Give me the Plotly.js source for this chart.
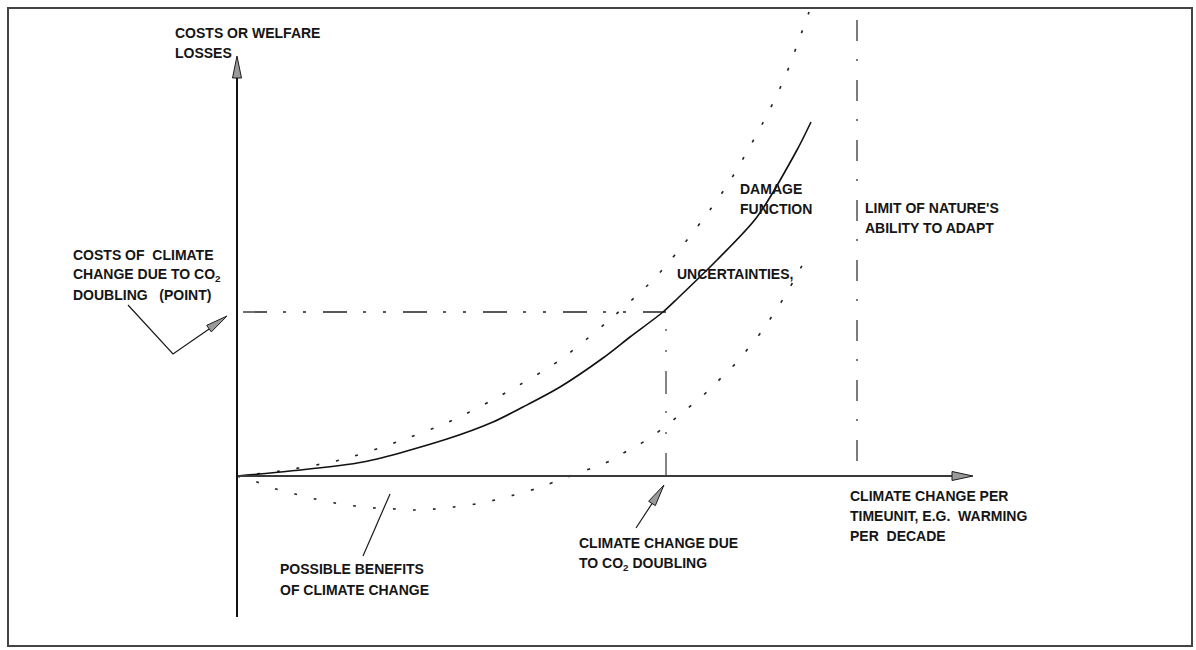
<!DOCTYPE html>
<html>
<head>
<meta charset="utf-8">
<script src="https://cdn.plot.ly/plotly-3.0.1.min.js"></script>
<style>html,body{margin:0;padding:0;background:#fff;}#chart{width:1196px;height:650px;}</style>
</head>
<body>
<div id="chart"></div>
<script>
// ---- Data read from the schematic (x: climate change per time unit, y: costs) ----
const damageX = [0, 1.06, 2.52, 4.2, 5.12, 5.72, 6.46, 7.32, 7.86, 8.52, 8.82, 9.6, 10.4, 11.2, 11.48];
const damageY = [0, 0.125, 0.35, 0.925, 1.35, 1.725, 2.225, 2.95, 3.475, 4.1, 4.45, 5.4, 6.475, 8.15, 8.85];

const upperX = [0, 0.86, 2.06, 3.2, 4.32, 5.4, 6.46, 7.4, 8.32, 8.84, 9.34, 9.82, 10.22, 10.62, 10.96, 11.26, 11.44];
const upperY = [0, 0.125, 0.4, 0.85, 1.4, 2.1, 2.9, 3.85, 4.9, 5.65, 6.45, 7.3, 8.15, 9.075, 9.975, 10.975, 11.6];

const lowerX = [0, 0.4, 0.78, 1.16, 1.56, 1.96, 2.36, 2.76, 3.16, 3.56, 3.96, 4.34, 4.78, 5.16, 5.54, 5.96, 6.34, 6.72, 7.1, 7.46, 7.8, 8.16, 8.5, 8.8, 9.12, 9.42, 9.72, 10.0, 10.26, 10.5, 10.74, 10.96, 11.36];
const lowerY = [0, -0.15, -0.325, -0.45, -0.575, -0.675, -0.75, -0.8, -0.825, -0.85, -0.825, -0.775, -0.7, -0.6, -0.475, -0.325, -0.15, 0.025, 0.2, 0.375, 0.625, 0.875, 1.175, 1.475, 1.8, 2.125, 2.5, 2.85, 3.25, 3.625, 4.075, 4.5, 5.4];

const co2DoublingX = 8.58;     // climate change due to CO2 doubling
const co2DoublingCost = 4.1;   // costs of climate change due to CO2 doubling
const natureLimitX = 12.4;     // limit of nature's ability to adapt
const natureLimitTop = 11.4;

// ---- Layout helpers ----
const W = 1196, H = 650;
const OX = 237, OY = 476, SX = 50, SY = 40; // axis scale: pixels per unit
const px = x => x / W;
const py = y => 1 - y / H;

const font = {family: '"Liberation Sans", Arial, Helvetica, sans-serif', size: 14, color: '#151515', weight: 'bold'};
const ink = '#1a1a1a';

function linePath(pts) {
  return pts.map((p, i) => (i ? 'L' : 'M') + px(p[0]).toFixed(5) + ',' + py(p[1]).toFixed(5)).join(' ');
}
function arrowHead(tx, ty, fx, fy, len, half) {
  const dx = tx - fx, dy = ty - fy, d = Math.hypot(dx, dy);
  const ux = dx / d, uy = dy / d;
  const bx = tx - ux * len, by = ty - uy * len;
  const nx = -uy, ny = ux;
  return {
    type: 'path', xref: 'paper', yref: 'paper',
    path: linePath([[tx, ty], [bx + nx * half, by + ny * half], [bx - nx * half, by - ny * half]]) + ' Z',
    fillcolor: '#9a9a9a', line: {color: ink, width: 1}
  };
}
function seg(pts, width, color, dash) {
  return {type: 'path', xref: 'paper', yref: 'paper', path: linePath(pts),
          line: {color: color || ink, width: width || 1.2, dash: dash || 'solid'}};
}

const traces = [
  {x: [0.12, co2DoublingX], y: [co2DoublingCost, co2DoublingCost], mode: 'lines',
   line: {color: '#222', width: 1.3, dash: '24px,16px,3px,17px,3px,17px'}, hoverinfo: 'skip'},
  {x: [co2DoublingX, co2DoublingX], y: [0, co2DoublingCost], mode: 'lines',
   line: {color: '#333', width: 1.2, dash: '23px,19px,2px,19px,2px,17px'}, hoverinfo: 'skip'},
  {x: [natureLimitX, natureLimitX], y: [natureLimitTop, 0], mode: 'lines',
   line: {color: '#444', width: 1.4, dash: '21px,18px,2px,19px'}, hoverinfo: 'skip'},
  {x: upperX, y: upperY, mode: 'lines', line: {color: '#222', width: 1.6, dash: '3px,17px', shape: 'spline', smoothing: 0.8}, hoverinfo: 'skip'},
  {x: lowerX, y: lowerY, mode: 'lines', line: {color: '#222', width: 1.6, dash: '3px,17px', shape: 'spline', smoothing: 0.8}, hoverinfo: 'skip'},
  {x: damageX, y: damageY, mode: 'lines', line: {color: '#111', width: 1.6, shape: 'spline', smoothing: 0.8}, hoverinfo: 'skip'}
];

const shapes = [
  // frame
  {type: 'rect', xref: 'paper', yref: 'paper', x0: px(8), x1: px(1192), y0: py(8), y1: py(646), line: {color: '#444', width: 2}},
  // axes
  seg([[OX, OY], [956, OY]], 2, '#3a3a3a'),
  seg([[OX, 617], [OX, 74]], 2, '#111'),
  arrowHead(973, OY, OX, OY, 21, 4.5),
  arrowHead(OX, 56, OX, 617, 22, 4.5),
  // leader: costs of climate change due to CO2 doubling
  seg([[128, 305], [173, 354], [212, 327]], 1.2),
  arrowHead(227, 316, 173, 354, 22, 4),
  // leader: possible benefits
  seg([[390, 494], [363, 556]], 1.2),
  // arrow: climate change due to CO2 doubling
  seg([[636, 528], [655, 499]], 1.2),
  arrowHead(664, 485, 636, 528, 22, 4)
];

const labels = [
  ['COSTS OR WELFARE', 175, 33],
  ['LOSSES', 175, 53],
  ['COSTS OF  CLIMATE', 73, 255],
  ['CHANGE DUE TO CO<sub>2</sub>', 73, 275],
  ['DOUBLING   (POINT)', 73, 295],
  ['DAMAGE', 740, 189],
  ['FUNCTION', 740, 209],
  ['UNCERTAINTIES,', 677, 274],
  ['LIMIT OF NATURE\'S', 865, 208],
  ['ABILITY TO ADAPT', 865, 228],
  ['CLIMATE CHANGE PER', 850, 496],
  ['TIMEUNIT, E.G.  WARMING', 850, 516],
  ['PER  DECADE', 850, 536],
  ['CLIMATE CHANGE DUE', 579, 543],
  ['TO CO<sub>2</sub> DOUBLING', 579, 564],
  ['POSSIBLE BENEFITS', 280, 569],
  ['OF CLIMATE CHANGE', 280, 590]
];
const annotations = labels.map(([t, x, y]) => ({
  text: t, xref: 'paper', yref: 'paper', x: px(x - 2), y: py(y),
  xanchor: 'left', yanchor: 'middle', showarrow: false, font: font, align: 'left'
}));

const layout = {
  width: W, height: H,
  margin: {l: 0, r: 0, t: 0, b: 0, pad: 0},
  paper_bgcolor: '#ffffff', plot_bgcolor: '#ffffff',
  showlegend: false,
  xaxis: {range: [-OX / SX, (W - OX) / SX], visible: false, fixedrange: true},
  yaxis: {range: [-(H - OY) / SY, OY / SY], visible: false, fixedrange: true},
  shapes: shapes,
  annotations: annotations
};

Plotly.newPlot('chart', traces, layout, {staticPlot: true, displayModeBar: false});
</script>
</body>
</html>
